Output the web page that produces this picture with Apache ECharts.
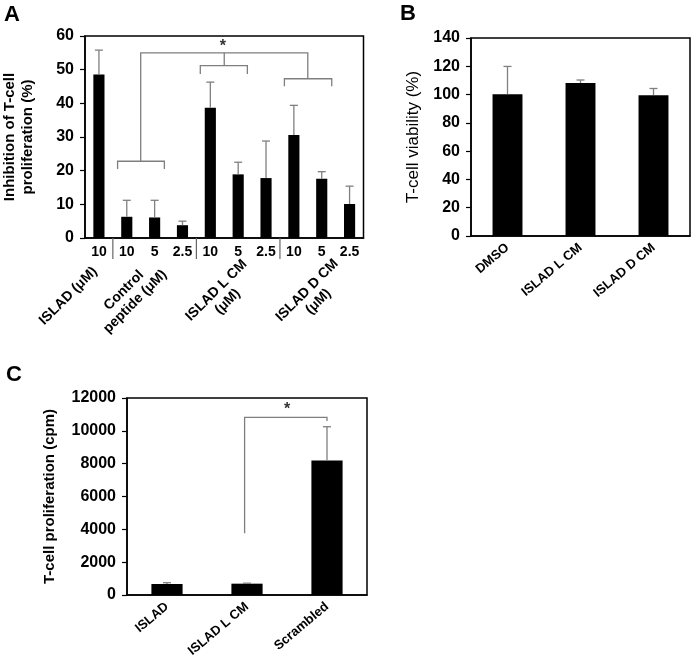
<!DOCTYPE html>
<html>
<head>
<meta charset="utf-8">
<script src="https://cdn.jsdelivr.net/npm/echarts@6/dist/echarts.min.js"></script>
<style>
  html, body { margin: 0; background: #fff; }
  #chart { width: 693px; height: 666px; }
</style>
</head>
<body>
<div id="chart"></div>
<script>
// Panel A: inhibition of T-cell proliferation
const doseLabelsA = ["10", "10", "5", "2.5", "10", "5", "2.5", "10", "5", "2.5"];
const groupLabelsA = ["ISLAD (μM)", "Control\npeptide (μM)", "ISLAD L CM\n(μM)", "ISLAD D CM\n(μM)"];
const groupPosA = [-1.1, 1.1, 4.42, 7.68]; // label centres, in category units
const inhibitionMean = [48.6, 6.3, 6.1, 3.8, 38.7, 18.9, 17.8, 30.6, 17.6, 10.1];
const inhibitionErr = [7.2, 4.9, 5.1, 1.2, 7.6, 3.6, 11.0, 8.8, 2.1, 5.3];
const separatorsA = [0.5, 3.5, 6.5];
// significance brackets, points as [category position, value]
const bracketsA = [
  [[0.67, 20.5], [0.67, 22.8], [2.35, 22.8], [2.35, 20.5]],
  [[1.5, 22.8], [1.5, 55], [7.5, 55], [7.5, 47.3]],
  [[3.64, 48.7], [3.64, 51.2], [5.33, 51.2], [5.33, 48.7]],
  [[4.5, 51.2], [4.5, 55]],
  [[6.66, 45.1], [6.66, 47.3], [8.36, 47.3], [8.36, 45.1]]
];
const starA = [4.45, 57.0];

// Panel B: viability
const catsB = ["DMSO", "ISLAD L CM", "ISLAD D CM"];
const viabilityMean = [100.2, 108.1, 99.6];
const viabilityErr = [19.7, 2.2, 4.7];

// Panel C: proliferation
const catsC = ["ISLAD", "ISLAD L CM", "Scrambled"];
const cpmMean = [670, 690, 8200];
const cpmErr = [80, 30, 2050];
const bracketsC = [
  [[0.97, 3760], [0.97, 10820], [2.0, 10820], [2.0, 10600]]
];
const starC = [1.5, 11300];

const FONT = "Liberation Sans";
const GREY = "#7f7f7f";

function toPx(api, p) {
  const c = api.coord([0, p[1]]);
  const bw = api.size([1, 0])[0];
  return [c[0] + p[0] * bw, c[1]];
}

function errorSeries(xi, yi, mean, err) {
  return {
    type: "custom", xAxisIndex: xi, yAxisIndex: yi, clip: false, z: 3,
    data: mean.map((m, i) => [i, m, m + err[i]]),
    encode: { x: 0, y: [1, 2] },
    renderItem: (params, api) => {
      const base = api.coord([api.value(0), api.value(1)]);
      const top = api.coord([api.value(0), api.value(2)]);
      const st = { stroke: GREY, lineWidth: 1.3 };
      return {
        type: "group",
        children: [
          { type: "line", shape: { x1: base[0], y1: base[1], x2: top[0], y2: top[1] }, style: st },
          { type: "line", shape: { x1: top[0] - 4, y1: top[1], x2: top[0] + 4, y2: top[1] }, style: st }
        ]
      };
    }
  };
}

function bracketSeries(xi, yi, brackets, star) {
  return {
    type: "custom", xAxisIndex: xi, yAxisIndex: yi, clip: false, z: 4,
    data: brackets.map(() => [0, 0]),
    renderItem: (params, api) => {
      const pts = brackets[params.dataIndex].map((p) => toPx(api, p));
      const children = [{ type: "polyline", shape: { points: pts }, style: { stroke: GREY, lineWidth: 1.3, fill: null } }];
      if (params.dataIndex === 0) {
        const s = toPx(api, star);
        children.push({ type: "text", x: s[0], y: s[1], style: { text: "*", font: "bold 16px " + FONT, fill: "#333", align: "center", verticalAlign: "middle" } });
      }
      return { type: "group", children: children };
    }
  };
}

function separatorSeries(xi, yi, seps) {
  return {
    type: "custom", xAxisIndex: xi, yAxisIndex: yi, clip: false, z: 4,
    data: seps.map(() => [0, 0]),
    renderItem: (params, api) => {
      const p = toPx(api, [seps[params.dataIndex], 0]);
      return { type: "line", shape: { x1: p[0], y1: p[1], x2: p[0], y2: p[1] + 21 }, style: { stroke: "#666", lineWidth: 1.2 } };
    }
  };
}

// rotated group names under panel A, centred multi-line text
function groupLabelSeries(xi, yi, labels, pos) {
  return {
    type: "custom", xAxisIndex: xi, yAxisIndex: yi, clip: false, z: 5,
    data: labels.map(() => [0, 0]),
    renderItem: (params, api) => {
      const p = toPx(api, [pos[params.dataIndex], 0]);
      return {
        type: "text", x: p[0], y: p[1] + 58, rotation: Math.PI / 4,
        style: { text: labels[params.dataIndex], font: "bold 14px " + FONT, lineHeight: 16, fill: "#000", align: "center", verticalAlign: "middle" }
      };
    }
  };
}

function yAxis(grid, max, step, name, gap, weight, size) {
  return {
    type: "value", gridIndex: grid, min: 0, max: max, interval: step,
    name: name, nameLocation: "middle", nameGap: gap,
    nameTextStyle: { fontFamily: FONT, fontSize: size, fontWeight: weight, color: "#000", lineHeight: 18 },
    axisLine: { show: true, lineStyle: { color: "#000", width: 1.5 } },
    axisTick: { show: true, length: 5, lineStyle: { color: "#000", width: 1.2 } },
    splitLine: { show: false },
    axisLabel: { fontFamily: FONT, fontSize: 16, fontWeight: "bold", color: "#000", margin: 11, formatter: (v) => String(v) }
  };
}

function rotLabelAxis(grid, data, margin, rotate, size) {
  return {
    type: "category", gridIndex: grid, position: "bottom", data: data,
    axisLine: { show: true, lineStyle: { color: "#000", width: 1.5 } },
    axisTick: { show: false },
    axisLabel: { interval: 0, rotate: rotate, margin: margin, fontFamily: FONT, fontSize: size, fontWeight: "bold", color: "#000", lineHeight: 16 }
  };
}

const gridStyle = { show: true, borderColor: "#000", borderWidth: 1.5, backgroundColor: "transparent", containLabel: false };

const chart = echarts.init(document.getElementById("chart"));
chart.setOption({
  animation: false,
  backgroundColor: "#fff",
  graphic: [
    { type: "text", left: 4, top: 4, style: { text: "A", font: "bold 22px " + FONT, fill: "#000" } },
    { type: "text", left: 400, top: 3, style: { text: "B", font: "bold 22px " + FONT, fill: "#000" } },
    { type: "text", left: 6, top: 364, style: { text: "C", font: "bold 22px " + FONT, fill: "#000" } }
  ],
  grid: [
    Object.assign({ left: 77.5, top: 36, width: 286, height: 202 }, gridStyle),
    Object.assign({ left: 471, top: 38, width: 219, height: 198 }, gridStyle),
    Object.assign({ left: 127, top: 398, width: 240, height: 197 }, gridStyle)
  ],
  xAxis: [
    {
      type: "category", gridIndex: 0, position: "bottom", data: doseLabelsA,
      axisLine: { show: true, lineStyle: { color: "#000", width: 1.5 } },
      axisTick: { show: false },
      axisLabel: { interval: 0, margin: 7, fontFamily: FONT, fontSize: 14, fontWeight: "bold", color: "#000" }
    },
    rotLabelAxis(1, catsB, 10, 40, 13),
    rotLabelAxis(2, catsC, 10, 40, 13)
  ],
  yAxis: [
    yAxis(0, 60, 10, "Inhibition of T-cell\nproliferation (%)", 48, "bold", 15),
    yAxis(1, 140, 20, "T-cell viability (%)", 49, "normal", 17),
    yAxis(2, 12000, 2000, "T-cell proliferation (cpm)", 68, "bold", 15)
  ],
  series: [
    { type: "bar", xAxisIndex: 0, yAxisIndex: 0, data: inhibitionMean, barWidth: "40%", itemStyle: { color: "#000" } },
    errorSeries(0, 0, inhibitionMean, inhibitionErr),
    bracketSeries(0, 0, bracketsA, starA),
    separatorSeries(0, 0, separatorsA),
    groupLabelSeries(0, 0, groupLabelsA, groupPosA),
    { type: "bar", xAxisIndex: 1, yAxisIndex: 1, data: viabilityMean, barWidth: "41%", itemStyle: { color: "#000" } },
    errorSeries(1, 1, viabilityMean, viabilityErr),
    { type: "bar", xAxisIndex: 2, yAxisIndex: 2, data: cpmMean, barWidth: "39%", itemStyle: { color: "#000" } },
    errorSeries(2, 2, cpmMean, cpmErr),
    bracketSeries(2, 2, bracketsC, starC)
  ]
});
</script>
</body>
</html>
